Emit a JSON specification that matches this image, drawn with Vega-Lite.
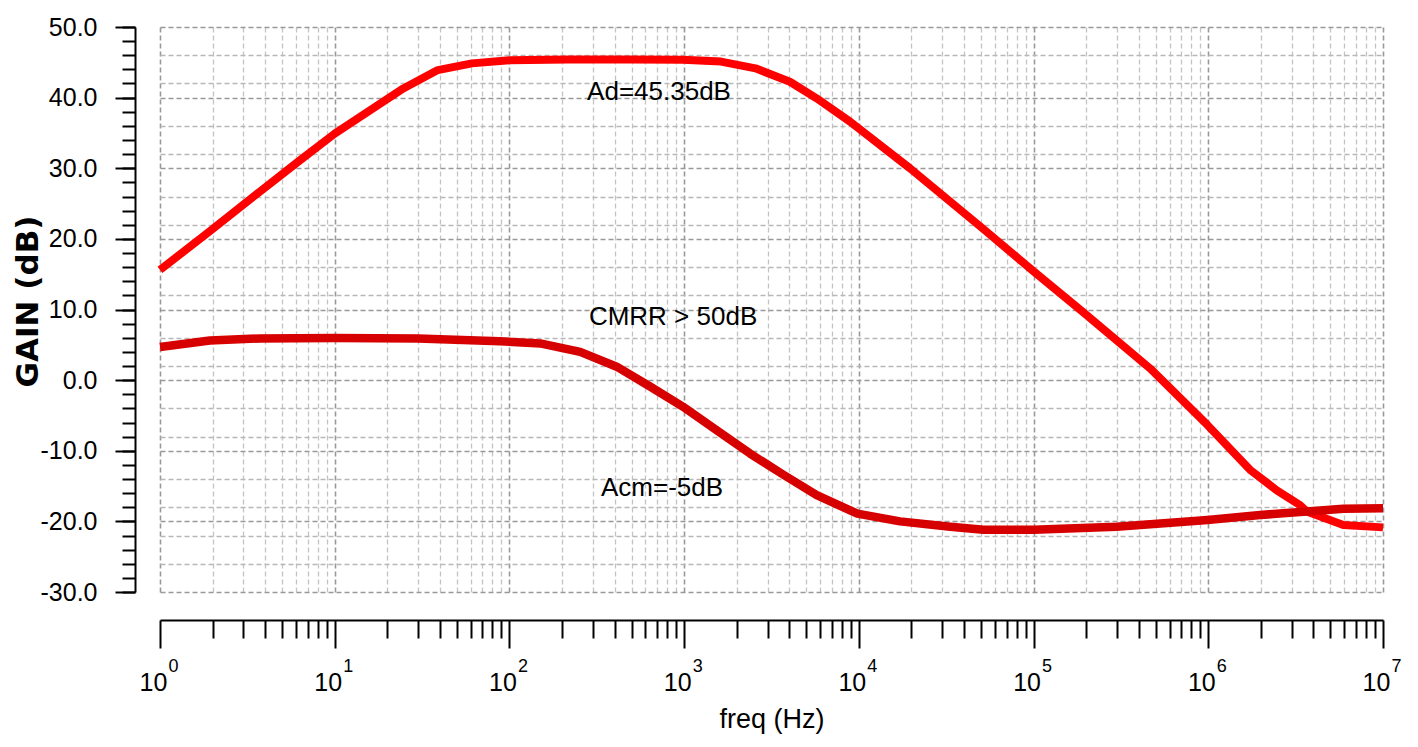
{
  "$schema": "https://vega.github.io/schema/vega-lite/v6.json",
  "width": 1223,
  "height": 565,
  "autosize": {"type": "none"},
  "padding": {"left": 160, "top": 27, "right": 35, "bottom": 155},
  "background": "white",
  "config": {
    "view": {"stroke": null},
    "font": "Liberation Sans",
    "axis": {"labelColor": "black", "titleColor": "black", "tickColor": "black", "domainColor": "black",
             "labelFont": "Liberation Sans", "titleFont": "Liberation Sans"},
    "text": {"font": "Liberation Sans"}
  },
  "datasets": {
    "gain": [
      {"series": "Ad", "f": 1, "gain": 15.6},
      {"series": "Ad", "f": 1.93, "gain": 21.1},
      {"series": "Ad", "f": 3.73, "gain": 26.7},
      {"series": "Ad", "f": 6.3, "gain": 31.1},
      {"series": "Ad", "f": 10, "gain": 34.9},
      {"series": "Ad", "f": 24.7, "gain": 41.3},
      {"series": "Ad", "f": 38.9, "gain": 43.9},
      {"series": "Ad", "f": 61, "gain": 44.85},
      {"series": "Ad", "f": 100, "gain": 45.3},
      {"series": "Ad", "f": 216, "gain": 45.4},
      {"series": "Ad", "f": 500, "gain": 45.4},
      {"series": "Ad", "f": 982, "gain": 45.35},
      {"series": "Ad", "f": 1626, "gain": 45.1},
      {"series": "Ad", "f": 2560, "gain": 44.15},
      {"series": "Ad", "f": 4030, "gain": 42.25},
      {"series": "Ad", "f": 5730, "gain": 39.9},
      {"series": "Ad", "f": 8900, "gain": 36.6},
      {"series": "Ad", "f": 19600, "gain": 30.0},
      {"series": "Ad", "f": 51600, "gain": 21.4},
      {"series": "Ad", "f": 98900, "gain": 15.5},
      {"series": "Ad", "f": 192800, "gain": 9.6},
      {"series": "Ad", "f": 464500, "gain": 1.65},
      {"series": "Ad", "f": 988000, "gain": -6.35},
      {"series": "Ad", "f": 1734000, "gain": -12.7},
      {"series": "Ad", "f": 2466000, "gain": -15.6},
      {"series": "Ad", "f": 3350000, "gain": -17.7},
      {"series": "Ad", "f": 3660000, "gain": -18.6},
      {"series": "Ad", "f": 5930000, "gain": -20.5},
      {"series": "Ad", "f": 10000000, "gain": -20.85},
      {"series": "Acm", "f": 1, "gain": 4.7},
      {"series": "Acm", "f": 1.93, "gain": 5.6},
      {"series": "Acm", "f": 3.73, "gain": 5.9},
      {"series": "Acm", "f": 10, "gain": 5.95},
      {"series": "Acm", "f": 30, "gain": 5.9},
      {"series": "Acm", "f": 88, "gain": 5.5},
      {"series": "Acm", "f": 150, "gain": 5.2},
      {"series": "Acm", "f": 254, "gain": 4.0},
      {"series": "Acm", "f": 411, "gain": 1.9},
      {"series": "Acm", "f": 638, "gain": -0.9},
      {"series": "Acm", "f": 982, "gain": -3.75},
      {"series": "Acm", "f": 1535, "gain": -7.1},
      {"series": "Acm", "f": 2384, "gain": -10.4},
      {"series": "Acm", "f": 3700, "gain": -13.4},
      {"series": "Acm", "f": 5740, "gain": -16.3},
      {"series": "Acm", "f": 9800, "gain": -18.9},
      {"series": "Acm", "f": 17200, "gain": -20.0},
      {"series": "Acm", "f": 33300, "gain": -20.75},
      {"series": "Acm", "f": 51600, "gain": -21.2},
      {"series": "Acm", "f": 100000, "gain": -21.2},
      {"series": "Acm", "f": 299000, "gain": -20.75},
      {"series": "Acm", "f": 990000, "gain": -19.8},
      {"series": "Acm", "f": 1980000, "gain": -19.1},
      {"series": "Acm", "f": 3660000, "gain": -18.6},
      {"series": "Acm", "f": 5930000, "gain": -18.2},
      {"series": "Acm", "f": 10000000, "gain": -18.15}
    ],
    "notes": [
      {"f": 718, "gain": 40.73, "label": "Ad=45.35dB"},
      {"f": 864, "gain": 8.87, "label": "CMRR > 50dB"},
      {"f": 747, "gain": -15.27, "label": "Acm=-5dB"}
    ]
  },
  "resolve": {"axis": {"x": "independent", "y": "independent"}},
  "layer": [
    {
      "data": {"name": "gain"},
      "transform": [{"filter": "datum.series === 'Ad'"}],
      "mark": {"type": "line", "color": "#ff0000", "strokeWidth": 8, "strokeJoin": "round"},
      "encoding": {
        "x": {
          "field": "f", "type": "quantitative",
          "scale": {"type": "log", "domain": [1, 10000000], "nice": false},
          "axis": {
            "orient": "bottom", "offset": 28,
            "values": [1, 10, 100, 1000, 10000, 100000, 1000000, 10000000],
            "labelExpr": "'10'", "labelFontSize": 25, "labelOffset": -7, "labelPadding": 22,
            "labelFlush": false, "labelOverlap": false, "labelBound": false,
            "tickSize": 28, "tickWidth": 2, "domainWidth": 2,
            "grid": true, "gridColor": "#999999", "gridWidth": 1.6, "gridDash": [5, 3],
            "title": "freq (Hz)", "titleFontSize": 27, "titleFontWeight": "normal", "titlePadding": 11
          }
        },
        "y": {
          "field": "gain", "type": "quantitative",
          "scale": {"domain": [-30, 50], "nice": false, "zero": false},
          "axis": {
            "orient": "left", "offset": 25,
            "values": [-30, -20, -10, 0, 10, 20, 30, 40, 50],
            "labelExpr": "(datum.value < 0 ? '-' : '') + format(abs(datum.value), '.1f')",
            "labelFontSize": 25, "labelPadding": 18, "labelOverlap": false, "labelBound": false,
            "tickSize": 20, "tickWidth": 2, "domainWidth": 2,
            "grid": true, "gridColor": "#999999", "gridWidth": 1.6, "gridDash": [5, 3],
            "title": "GAIN (dB)", "titleFont": "DejaVu Sans", "titleFontWeight": "bold",
            "titleFontSize": 31, "titleBaseline": "alphabetic", "titleX": -98, "titleY": 274
          }
        }
      }
    },
    {
      "data": {"name": "gain"},
      "transform": [{"filter": "datum.series === 'Acm'"}],
      "mark": {"type": "line", "color": "#d70000", "strokeWidth": 8.5, "strokeJoin": "round"},
      "encoding": {
        "x": {
          "field": "f", "type": "quantitative",
          "scale": {"type": "log", "domain": [1, 10000000], "nice": false},
          "axis": {
            "orient": "bottom", "offset": 28,
            "values": [2, 3, 4, 5, 6, 7, 8, 9,
                       20, 30, 40, 50, 60, 70, 80, 90,
                       200, 300, 400, 500, 600, 700, 800, 900,
                       2000, 3000, 4000, 5000, 6000, 7000, 8000, 9000,
                       20000, 30000, 40000, 50000, 60000, 70000, 80000, 90000,
                       200000, 300000, 400000, 500000, 600000, 700000, 800000, 900000,
                       2000000, 3000000, 4000000, 5000000, 6000000, 7000000, 8000000, 9000000],
            "labels": false, "domain": false,
            "tickSize": 18, "tickWidth": 2,
            "grid": true, "gridColor": "#c4c4c4", "gridWidth": 1.3, "gridDash": [5, 3],
            "title": null
          }
        },
        "y": {
          "field": "gain", "type": "quantitative",
          "scale": {"domain": [-30, 50], "nice": false, "zero": false},
          "axis": {
            "orient": "left", "offset": 25,
            "values": [-30, -28, -26, -24, -22, -20, -18, -16, -14, -12, -10, -8, -6, -4, -2, 0,
                       2, 4, 6, 8, 10, 12, 14, 16, 18, 20, 22, 24, 26, 28, 30,
                       32, 34, 36, 38, 40, 42, 44, 46, 48, 50],
            "labels": false, "domain": false, "grid": false,
            "tickSize": 13, "tickWidth": 2,
            "title": null
          }
        }
      }
    },
    {
      "data": {"name": "notes"},
      "mark": {"type": "text", "fontSize": 26, "color": "black", "align": "center", "baseline": "middle",
               "font": "Liberation Sans"},
      "encoding": {
        "x": {
          "field": "f", "type": "quantitative",
          "scale": {"type": "log", "domain": [1, 10000000], "nice": false},
          "axis": {
            "orient": "bottom", "offset": 28,
            "values": [1, 10, 100, 1000, 10000, 100000, 1000000, 10000000],
            "labelExpr": "'' + round(log(datum.value) / LN10)",
            "labelFontSize": 18, "labelOffset": 13, "labelPadding": 37,
            "labelFlush": false, "labelOverlap": false, "labelBound": false,
            "ticks": false, "tickSize": 0, "domain": false, "grid": false,
            "title": null
          }
        },
        "y": {
          "field": "gain", "type": "quantitative",
          "scale": {"domain": [-30, 50], "nice": false, "zero": false},
          "axis": {
            "orient": "left",
            "values": [46, 42, 36, 32, 26, 22, 16, 12, 6, 2, -4, -8, -14, -18, -22, -26],
            "labels": false, "ticks": false, "domain": false,
            "grid": true, "gridColor": "#b8b8b8", "gridWidth": 1.4, "gridDash": [5, 3],
            "title": null
          }
        },
        "text": {"field": "label", "type": "nominal"}
      }
    }
  ]
}
